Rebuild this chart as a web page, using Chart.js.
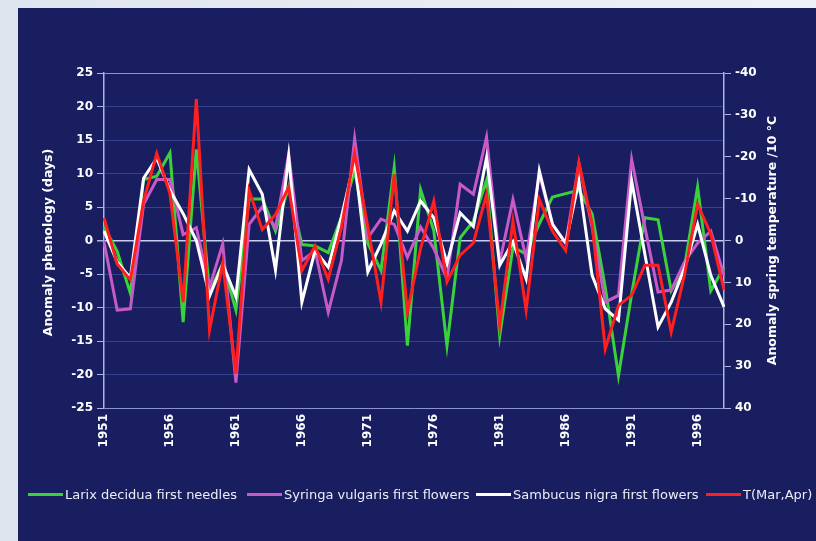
<!DOCTYPE html>
<html>
<head>
<meta charset="utf-8">
<script src="https://cdn.jsdelivr.net/npm/chart.js@4"></script>
<style>
  html, body { margin: 0; padding: 0; }
  body { width: 816px; height: 541px; overflow: hidden; position: relative;
         background: linear-gradient(90deg, #dfe5ee 0%, #eef1f6 100%); font-family: "DejaVu Sans", sans-serif; }
  #panel { position: absolute; left: 18px; top: 8px; width: 798px; height: 533px; background: #191e61; }
  #chart { position: absolute; left: 0; top: 0; }
  #legend { position: absolute; left: 0; top: 0; width: 798px; height: 533px; pointer-events: none; overflow: hidden; }
  .lg { position: absolute; top: 478px; height: 16px; display: flex; align-items: center; white-space: nowrap;
        color: #ecedf5; font-size: 13px; font-family: "DejaVu Sans", sans-serif; }
  .lg i { display: inline-block; width: 35px; height: 3px; margin-right: 2px; }
</style>
</head>
<body>
<div id="panel">
  <canvas id="chart" width="798" height="533"></canvas>
  <div id="legend"></div>
</div>
<script>
const years = ['1951','1952','1953','1954','1955','1956','1957','1958','1959','1960',
  '1961','1962','1963','1964','1965','1966','1967','1968','1969','1970',
  '1971','1972','1973','1974','1975','1976','1977','1978','1979','1980',
  '1981','1982','1983','1984','1985','1986','1987','1988','1989','1990',
  '1991','1992','1993','1994','1995','1996','1997','1998'];

const seriesNames = ['Larix decidua first needles', 'Syringa vulgaris first flowers',
  'Sambucus nigra first flowers', 'T(Mar,Apr)'];

// Anomaly phenology (days)
const larix = [2.1, -1.6, -7.9, 9.1, 9.6, 13.1, -12.2, 13.6, -7.7, -3.4,
  -10.4, 6.2, 6.2, 1.4, 8, -0.6, -0.8, -1.8, 3.5, 10.5,
  -0.4, -4.5, 10.9, -15.7, 7.6, 1.5, -15.7, 0.4, 2.9, 9,
  -14.2, -1, -2, 2.5, 6.5, 7, 7.5, 4, -7, -20.2,
  -8, 3.4, 3.1, -7.5, -4, 8, -7.5, -4];

const syringa = [-0.2, -10.4, -10.2, 5.4, 9.1, 9.1, 0.9, 1.9, -7, -0.5,
  -21.2, 2.4, 5, 1.9, 12.9, -3, -1.5, -10.7, -3, 15.2,
  0.4, 3.2, 2.4, -2.5, 2, -1.2, -5.7, 8.4, 6.9, 15.4,
  -3.2, 6.1, -2.7, 9.9, 2.4, -0.4, 11.5, 2, -9.2, -8.2,
  12.1, 2, -7.7, -7.4, -3.2, -0.4, 1.4, -5.2];

const sambucus = [1.4, -3.2, -5.6, 9.3, 12.3, 7.5, 4, 0, -8.3, -3.5,
  -8.4, 10.6, 6.9, -4.4, 12.6, -9.2, -1.5, -4, 3.5, 12,
  -4.7, -0.5, 4.4, 1.4, 5.9, 3.4, -3.4, 4.1, 2.1, 12.4,
  -3.7, -0.2, -5.7, 10.4, 2.4, -0.4, 8.9, -5.2, -10.2, -11.9,
  8.9, -2, -12.9, -9.2, -4.2, 2.4, -5.2, -9.9];

// Anomaly spring temperature /10 °C (right axis, reversed)
const tempMarApr = [-5.4, 5.6, 9.4, -9.4, -20.8, -11.2, 14.7, -33.8, 21.4, 5.4,
  31.8, -12, -2.6, -6.2, -12.8, 7.2, 1.3, 9.3, -3.2, -20.8,
  -3.2, 14.7, -15.8, 17, 1.9, -9.4, 9.9, 3.5, 0.6, -11,
  20.3, -4.6, 16.6, -9.8, -2.2, 2.4, -18.6, -4, 25.9, 15.5,
  13.1, 5.9, 5.9, 21.9, 8.3, -8.6, -1.6, 11.8];

const colors = ['#3ad23a', '#c85ac8', '#ffffff', '#ff1f1f'];
const legendX = [10, 229, 458, 688];

const FONT = "'DejaVu Sans', sans-serif";
const lightLine = '#aeb4e2';

const titlePlugin = {
  id: 'axisTitles',
  afterDraw(chart) {
    const ctx = chart.ctx;
    const ca = chart.chartArea;
    const cy = (ca.top + ca.bottom) / 2;
    ctx.save();
    ctx.fillStyle = '#ffffff';
    ctx.font = 'bold 12.5px ' + FONT;
    ctx.textAlign = 'center';
    ctx.textBaseline = 'middle';
    ctx.translate(31, cy + 2);
    ctx.rotate(-Math.PI / 2);
    ctx.fillText('Anomaly phenology (days)', 0, 0);
    ctx.restore();
    ctx.save();
    ctx.fillStyle = '#ffffff';
    ctx.font = 'bold 12.5px ' + FONT;
    ctx.textAlign = 'center';
    ctx.textBaseline = 'middle';
    ctx.translate(755, cy);
    ctx.rotate(-Math.PI / 2);
    ctx.fillText('Anomaly spring temperature /10 °C', 0, 0);
    ctx.restore();
  }
};

const mk = (label, data, color, axis, order) => ({
  label, data, borderColor: color, backgroundColor: color, borderWidth: 3,
  pointRadius: 0, tension: 0, yAxisID: axis, order, fill: false
});

const chart = new Chart(document.getElementById('chart'), {
  type: 'line',
  data: {
    labels: years,
    datasets: [
      mk(seriesNames[0], larix, colors[0], 'y', 3),
      mk(seriesNames[1], syringa, colors[1], 'y', 2),
      mk(seriesNames[2], sambucus, colors[2], 'y', 1),
      mk(seriesNames[3], tempMarApr, colors[3], 'y2', 0)
    ]
  },
  options: {
    responsive: false,
    animation: false,
    devicePixelRatio: 1,
    layout: { padding: { top: 65, left: 0, right: 0, bottom: 0 } },
    plugins: { legend: { display: false }, tooltip: { enabled: false } },
    scales: {
      x: {
        type: 'category',
        offset: false,
        grid: { display: false, drawTicks: false },
        border: { display: false },
        ticks: {
          autoSkip: false, minRotation: 90, maxRotation: 90, padding: 6,
          color: '#ffffff', font: { family: FONT, size: 12, weight: 'bold' },
          callback(v, i) { return (i % 5 === 0) ? years[i] : null; }
        },
        afterFit(s) { s.height = 133; }
      },
      y: {
        position: 'left',
        min: -25, max: 25,
        ticks: { stepSize: 5, padding: 4, color: '#ffffff', font: { family: FONT, size: 12, weight: 'bold' } },
        grid: {
          tickLength: 7,
          tickColor: lightLine,
          color(c) {
            const v = c.tick && c.tick.value;
            if (v === 0) return '#c9cdf2';
            if (v === 25 || v === -25) return '#8c93d2';
            return '#35418c';
          },
          lineWidth(c) { return (c.tick && c.tick.value === 0) ? 1.5 : 1; }
        },
        border: { display: true, color: lightLine, width: 1.5 },
        afterFit(s) { s.width = 86; }
      },
      y2: {
        position: 'right',
        min: -40, max: 40, reverse: true,
        ticks: { stepSize: 10, padding: 4, color: '#ffffff', font: { family: FONT, size: 12, weight: 'bold' } },
        grid: { drawOnChartArea: false, tickLength: 7, tickColor: lightLine },
        border: { display: true, color: lightLine, width: 1.5 },
        afterFit(s) { s.width = 92; }
      }
    }
  },
  plugins: [titlePlugin]
});

// HTML legend built from the chart's datasets
const lg = document.getElementById('legend');
chart.data.datasets.forEach((ds, i) => {
  const d = document.createElement('div');
  d.className = 'lg';
  d.style.left = legendX[i] + 'px';
  const sw = document.createElement('i');
  sw.style.background = ds.borderColor;
  d.appendChild(sw);
  d.appendChild(document.createTextNode(ds.label));
  lg.appendChild(d);
});
</script>
</body>
</html>
